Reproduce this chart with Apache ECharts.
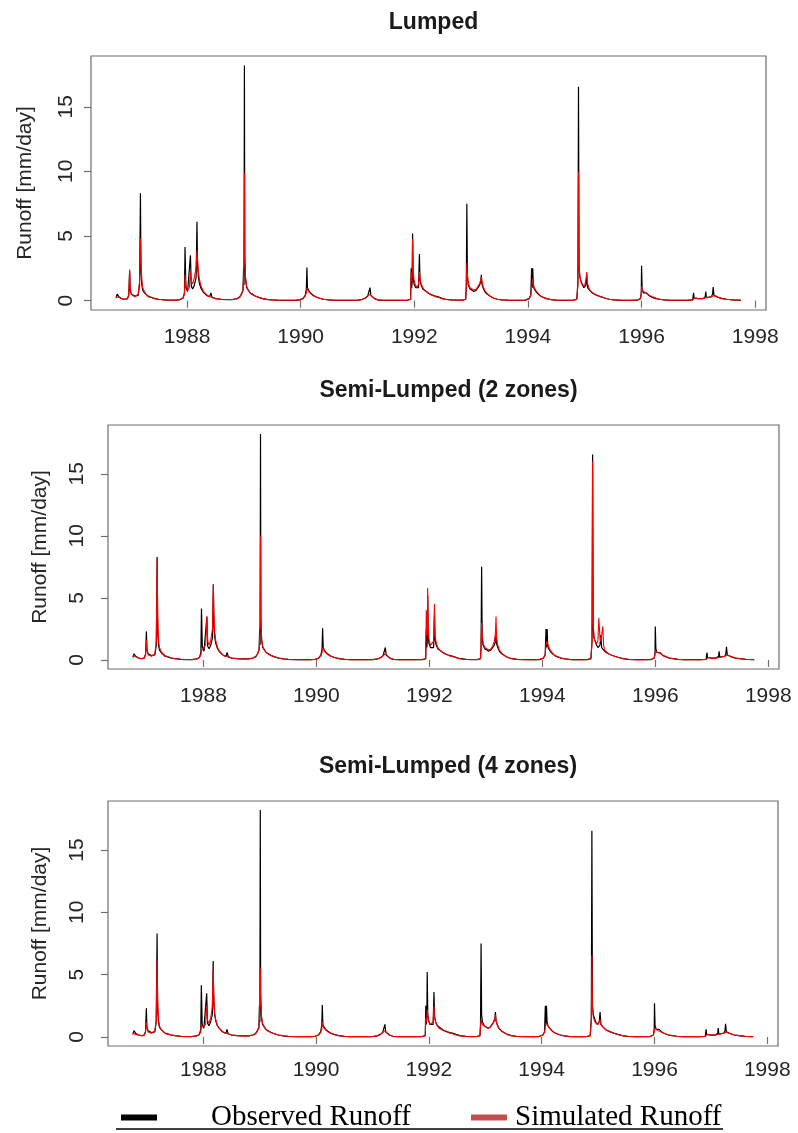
<!DOCTYPE html>
<html>
<head>
<meta charset="utf-8">
<script src="https://cdn.jsdelivr.net/npm/echarts@6/dist/echarts.min.js"></script>
<style>
html,body{margin:0;padding:0;background:#fff;}
#chart{width:798px;height:1133px;}
</style>
</head>
<body>
<div id="chart"></div>
<script>
// ---------------- DATA ----------------
const panelTitles = ['Lumped', 'Semi-Lumped (2 zones)', 'Semi-Lumped (4 zones)'];
const yearTicks = [1988, 1990, 1992, 1994, 1996, 1998];
const runoffTicks = [0, 5, 10, 15];
const legendNames = ['Observed Runoff', 'Simulated Runoff'];

// time in decimal years
const years = [
  // start + 1986-87 season (25)
  1986.75, 1986.77, 1986.80, 1986.85, 1986.90, 1986.95, 1986.975, 1986.99, 1987.00, 1987.02, 1987.05, 1987.08, 1987.11, 1987.14, 1987.165, 1987.18, 1987.19, 1987.205, 1987.22, 1987.25, 1987.28, 1987.32, 1987.37, 1987.43, 1987.50,
  // 1987-88 season (27)
  1987.60, 1987.70, 1987.80, 1987.88, 1987.93, 1987.955, 1987.965, 1987.98, 1988.01, 1988.04, 1988.06, 1988.075, 1988.10, 1988.13, 1988.16, 1988.175, 1988.185, 1988.20, 1988.22, 1988.25, 1988.28, 1988.32, 1988.36, 1988.40, 1988.42, 1988.44, 1988.50,
  // 1988-89 season (21)
  1988.60, 1988.70, 1988.80, 1988.88, 1988.93, 1988.96, 1988.985, 1988.995, 1989.003, 1989.01, 1989.017, 1989.03, 1989.05, 1989.08, 1989.11, 1989.15, 1989.20, 1989.26, 1989.33, 1989.42, 1989.50,
  // 1989-90 (17)
  1989.60, 1989.70, 1989.80, 1989.90, 1989.98, 1990.04, 1990.08, 1990.10, 1990.11, 1990.12, 1990.14, 1990.17, 1990.21, 1990.26, 1990.32, 1990.40, 1990.50,
  // 1990-91 (14)
  1990.60, 1990.75, 1990.90, 1991.00, 1991.08, 1991.14, 1991.18, 1991.21, 1991.22, 1991.235, 1991.26, 1991.30, 1991.36, 1991.45,
  // 1991-92 (27)
  1991.60, 1991.75, 1991.88, 1991.935, 1991.945, 1991.955, 1991.963, 1991.97, 1991.98, 1991.995, 1992.02, 1992.05, 1992.075, 1992.09, 1992.10, 1992.12, 1992.15, 1992.18, 1992.21, 1992.24, 1992.27, 1992.30, 1992.33, 1992.37, 1992.42, 1992.48, 1992.55,
  // 1992-93 (24)
  1992.65, 1992.75, 1992.85, 1992.905, 1992.915, 1992.925, 1992.935, 1992.95, 1992.98, 1993.01, 1993.05, 1993.09, 1993.12, 1993.15, 1993.17, 1993.18, 1993.19, 1993.21, 1993.24, 1993.28, 1993.33, 1993.39, 1993.46, 1993.55,
  // 1993-94 (18)
  1993.65, 1993.75, 1993.85, 1993.95, 1994.02, 1994.05, 1994.065, 1994.075, 1994.085, 1994.095, 1994.11, 1994.14, 1994.18, 1994.22, 1994.27, 1994.33, 1994.40, 1994.50,
  // 1994-95 (25)
  1994.60, 1994.70, 1994.80, 1994.86, 1994.88, 1994.89, 1994.90, 1994.915, 1994.935, 1994.96, 1994.985, 1995.00, 1995.02, 1995.035, 1995.05, 1995.07, 1995.085, 1995.10, 1995.13, 1995.17, 1995.22, 1995.28, 1995.35, 1995.43, 1995.52,
  // 1995-96 (17)
  1995.65, 1995.80, 1995.92, 1995.98, 1995.995, 1996.00, 1996.01, 1996.03, 1996.06, 1996.08, 1996.10, 1996.14, 1996.19, 1996.25, 1996.32, 1996.40, 1996.50,
  // 1996-97 (22)
  1996.65, 1996.80, 1996.90, 1996.915, 1996.925, 1996.94, 1997.00, 1997.08, 1997.12, 1997.13, 1997.14, 1997.18, 1997.23, 1997.25, 1997.26, 1997.275, 1997.30, 1997.35, 1997.42, 1997.50, 1997.60, 1997.75
];

const observed = [
  0.2, 0.5, 0.3, 0.15, 0.1, 0.15, 0.4, 2.3, 0.8, 0.5, 0.4, 0.35, 0.5, 0.4, 1.2, 8.3, 2.2, 1.2, 0.8, 0.6, 0.5, 0.3, 0.25, 0.15, 0.1,
  0.05, 0.03, 0.03, 0.08, 0.2, 0.6, 4.15, 1.0, 0.7, 0.8, 3.5, 1.1, 0.9, 1.2, 1.8, 6.1, 2.8, 1.8, 1.3, 0.9, 0.7, 0.5, 0.35, 0.3, 0.6, 0.25, 0.15,
  0.1, 0.08, 0.08, 0.15, 0.3, 0.5, 0.8, 2.5, 1.2, 18.2, 3.3, 1.6, 1.0, 0.8, 0.6, 0.5, 0.35, 0.25, 0.15, 0.08, 0.05,
  0.03, 0.02, 0.02, 0.02, 0.05, 0.15, 0.4, 0.9, 2.55, 1.0, 0.8, 0.6, 0.45, 0.3, 0.2, 0.1, 0.05,
  0.02, 0.02, 0.02, 0.03, 0.08, 0.2, 0.35, 0.5, 1.0, 0.4, 0.3, 0.15, 0.05, 0.02,
  0.02, 0.02, 0.03, 0.1, 2.5, 1.0, 1.5, 5.2, 1.8, 1.3, 1.0, 0.9, 1.0, 3.6, 1.6, 1.2, 0.9, 0.8, 0.7, 0.6, 0.5, 0.55, 0.4, 0.35, 0.3, 0.2, 0.1,
  0.05, 0.03, 0.03, 0.1, 1.0, 7.5, 1.8, 1.2, 0.9, 0.8, 0.7, 0.8, 0.9, 1.2, 1.5, 2.0, 1.3, 1.0, 0.7, 0.5, 0.35, 0.2, 0.1, 0.05,
  0.03, 0.02, 0.02, 0.03, 0.15, 0.4, 2.5, 1.0, 2.5, 1.2, 0.9, 0.7, 0.5, 0.35, 0.25, 0.15, 0.08, 0.03,
  0.02, 0.02, 0.03, 0.1, 1.5, 16.55, 2.5, 1.8, 1.5, 1.2, 1.0, 0.9, 1.2, 2.0, 1.0, 0.9, 0.8, 0.7, 0.6, 0.5, 0.4, 0.3, 0.2, 0.1, 0.05,
  0.02, 0.02, 0.03, 0.15, 0.6, 2.7, 0.9, 0.6, 0.5, 0.6, 0.45, 0.35, 0.25, 0.15, 0.1, 0.05, 0.02,
  0.02, 0.02, 0.05, 0.6, 0.2, 0.15, 0.15, 0.15, 0.3, 0.7, 0.25, 0.25, 0.3, 0.5, 1.05, 0.4, 0.3, 0.25, 0.15, 0.1, 0.05, 0.02
];

const simLumped = [
  0.3, 0.3, 0.25, 0.15, 0.1, 0.12, 0.5, 2.4, 1.0, 0.5, 0.35, 0.3, 0.4, 0.5, 1.5, 4.8, 3.0, 1.6, 1.0, 0.7, 0.5, 0.35, 0.25, 0.15, 0.1,
  0.05, 0.03, 0.03, 0.08, 0.2, 0.5, 2.0, 1.2, 0.8, 1.0, 2.2, 1.5, 1.3, 1.8, 2.6, 3.9, 3.2, 2.2, 1.6, 1.1, 0.8, 0.55, 0.4, 0.3, 0.3, 0.25, 0.15,
  0.1, 0.08, 0.08, 0.15, 0.25, 0.4, 0.8, 1.6, 3.5, 9.85, 3.5, 1.8, 1.1, 0.8, 0.6, 0.45, 0.35, 0.25, 0.15, 0.08, 0.05,
  0.03, 0.02, 0.02, 0.02, 0.05, 0.15, 0.35, 0.6, 0.95, 0.85, 0.7, 0.55, 0.4, 0.3, 0.2, 0.1, 0.05,
  0.02, 0.02, 0.02, 0.03, 0.08, 0.2, 0.35, 0.45, 0.5, 0.4, 0.3, 0.15, 0.05, 0.02,
  0.02, 0.02, 0.03, 0.1, 2.2, 1.5, 2.0, 4.8, 2.5, 1.6, 1.2, 1.0, 1.3, 2.2, 1.8, 1.3, 1.0, 0.8, 0.7, 0.6, 0.5, 0.45, 0.4, 0.3, 0.25, 0.15, 0.08,
  0.05, 0.03, 0.03, 0.1, 1.2, 2.9, 2.0, 1.4, 1.0, 0.9, 0.8, 0.9, 1.0, 1.3, 1.6, 1.8, 1.5, 1.1, 0.8, 0.55, 0.35, 0.2, 0.1, 0.05,
  0.03, 0.02, 0.02, 0.03, 0.15, 0.4, 1.0, 1.4, 1.7, 1.3, 1.0, 0.8, 0.55, 0.35, 0.25, 0.15, 0.08, 0.03,
  0.02, 0.02, 0.03, 0.1, 1.2, 9.97, 2.8, 1.8, 1.4, 1.2, 1.1, 1.2, 1.6, 2.2, 1.3, 1.0, 0.9, 0.75, 0.6, 0.5, 0.4, 0.3, 0.2, 0.1, 0.05,
  0.02, 0.02, 0.03, 0.15, 0.5, 1.1, 0.9, 0.7, 0.55, 0.6, 0.5, 0.4, 0.3, 0.2, 0.1, 0.05, 0.02,
  0.02, 0.02, 0.05, 0.15, 0.2, 0.2, 0.15, 0.15, 0.2, 0.3, 0.3, 0.25, 0.3, 0.35, 0.45, 0.4, 0.35, 0.25, 0.15, 0.1, 0.05, 0.02
];

const simSemi2 = [
  0.35, 0.3, 0.25, 0.15, 0.1, 0.12, 0.5, 1.6, 0.8, 0.4, 0.35, 0.3, 0.35, 0.5, 1.5, 8.2, 3.5, 1.6, 1.0, 0.7, 0.5, 0.35, 0.25, 0.15, 0.1,
  0.05, 0.03, 0.03, 0.08, 0.2, 0.4, 0.7, 0.9, 0.8, 1.2, 3.5, 1.5, 1.2, 1.6, 2.5, 6.05, 3.8, 2.2, 1.5, 1.0, 0.7, 0.5, 0.35, 0.3, 0.3, 0.25, 0.15,
  0.1, 0.08, 0.08, 0.15, 0.25, 0.4, 0.8, 1.6, 3.3, 10.0, 3.3, 1.7, 1.1, 0.8, 0.6, 0.45, 0.35, 0.25, 0.15, 0.08, 0.05,
  0.03, 0.02, 0.02, 0.02, 0.05, 0.15, 0.35, 0.6, 1.0, 0.9, 0.7, 0.55, 0.4, 0.3, 0.2, 0.1, 0.05,
  0.02, 0.02, 0.02, 0.03, 0.08, 0.2, 0.35, 0.45, 0.5, 0.4, 0.3, 0.15, 0.05, 0.02,
  0.02, 0.02, 0.03, 0.1, 4.0, 2.0, 2.5, 5.8, 2.6, 1.6, 1.2, 1.1, 1.5, 4.5, 2.0, 1.4, 1.0, 0.8, 0.7, 0.6, 0.5, 0.45, 0.4, 0.3, 0.25, 0.15, 0.08,
  0.05, 0.03, 0.03, 0.1, 1.2, 3.0, 2.0, 1.4, 1.0, 0.9, 0.8, 0.9, 1.1, 1.5, 2.2, 3.5, 1.8, 1.2, 0.8, 0.55, 0.35, 0.2, 0.1, 0.05,
  0.03, 0.02, 0.02, 0.03, 0.15, 0.4, 1.2, 1.5, 1.5, 1.4, 1.1, 0.8, 0.55, 0.35, 0.25, 0.15, 0.08, 0.03,
  0.02, 0.02, 0.03, 0.1, 1.5, 16.0, 3.0, 1.8, 1.5, 1.3, 1.6, 3.4, 1.8, 1.5, 1.6, 2.7, 1.2, 0.8, 0.65, 0.5, 0.4, 0.3, 0.2, 0.1, 0.05,
  0.02, 0.02, 0.03, 0.15, 0.4, 0.8, 0.75, 0.6, 0.5, 0.55, 0.45, 0.35, 0.25, 0.15, 0.1, 0.05, 0.02,
  0.02, 0.02, 0.05, 0.15, 0.2, 0.2, 0.15, 0.15, 0.2, 0.3, 0.3, 0.25, 0.3, 0.35, 0.45, 0.4, 0.35, 0.25, 0.15, 0.1, 0.05, 0.02
];

const simSemi4 = [
  0.3, 0.25, 0.2, 0.15, 0.1, 0.1, 0.4, 1.2, 0.7, 0.4, 0.3, 0.3, 0.35, 0.45, 1.3, 6.2, 3.0, 1.5, 0.9, 0.6, 0.45, 0.3, 0.2, 0.15, 0.1,
  0.05, 0.03, 0.03, 0.08, 0.2, 0.4, 1.0, 0.8, 0.7, 1.0, 2.5, 1.3, 1.1, 1.5, 2.4, 5.4, 3.5, 2.0, 1.4, 0.9, 0.7, 0.5, 0.35, 0.3, 0.3, 0.25, 0.15,
  0.1, 0.08, 0.08, 0.15, 0.25, 0.4, 0.7, 1.4, 2.8, 5.5, 3.2, 1.7, 1.1, 0.8, 0.6, 0.45, 0.35, 0.25, 0.15, 0.08, 0.05,
  0.03, 0.02, 0.02, 0.02, 0.05, 0.15, 0.35, 0.6, 1.2, 0.9, 0.7, 0.55, 0.4, 0.3, 0.2, 0.1, 0.05,
  0.02, 0.02, 0.02, 0.03, 0.08, 0.2, 0.35, 0.45, 0.5, 0.4, 0.3, 0.15, 0.05, 0.02,
  0.02, 0.02, 0.03, 0.1, 1.5, 1.2, 1.5, 2.2, 1.8, 1.3, 1.0, 0.9, 1.2, 2.5, 1.6, 1.2, 0.9, 0.7, 0.6, 0.55, 0.5, 0.45, 0.4, 0.3, 0.25, 0.15, 0.08,
  0.05, 0.03, 0.03, 0.1, 0.8, 1.4, 1.2, 1.0, 0.9, 0.8, 0.7, 0.8, 0.9, 1.2, 1.5, 1.75, 1.3, 1.0, 0.7, 0.5, 0.35, 0.2, 0.1, 0.05,
  0.03, 0.02, 0.02, 0.03, 0.15, 0.35, 0.8, 1.1, 1.2, 1.1, 0.9, 0.7, 0.5, 0.35, 0.25, 0.15, 0.08, 0.03,
  0.02, 0.02, 0.03, 0.1, 1.3, 6.55, 2.4, 1.6, 1.3, 1.1, 1.0, 1.0, 1.1, 1.4, 1.0, 0.9, 0.8, 0.7, 0.6, 0.5, 0.4, 0.3, 0.2, 0.1, 0.05,
  0.02, 0.02, 0.03, 0.15, 0.4, 0.7, 0.7, 0.6, 0.5, 0.55, 0.45, 0.35, 0.25, 0.15, 0.1, 0.05, 0.02,
  0.02, 0.02, 0.05, 0.15, 0.2, 0.2, 0.15, 0.15, 0.2, 0.3, 0.3, 0.25, 0.3, 0.35, 0.45, 0.4, 0.35, 0.25, 0.15, 0.1, 0.05, 0.02
];

const simulated = [simLumped, simSemi2, simSemi4];

[observed, simLumped, simSemi2, simSemi4].forEach(function (a, k) {
  if (a.length !== years.length) throw new Error('length mismatch ' + k + ': ' + a.length + ' vs ' + years.length);
});

// ---------------- LAYOUT ----------------
const grids = [
  { left: 91, top: 56, width: 675, height: 254 },
  { left: 108, top: 425, width: 671, height: 244 },
  { left: 108, top: 801, width: 670, height: 245 }
];
const titleTops = [6, 374, 750];
const yLabelMargins = [14, 20, 20];
const yNameGaps = [55, 57, 57];
const xLabelMargins = [17, 17, 14];

const FONT = 'Liberation Sans, Arial, sans-serif';
const BOX = '#6e6e6e';

const chart = echarts.init(document.getElementById('chart'), null, { renderer: 'canvas' });

const pair = function (vals) { return years.map(function (y, i) { return [y, vals[i]]; }); };

const option = {
  animation: false,
  backgroundColor: '#ffffff',
  title: panelTitles.map(function (t, i) {
    return {
      text: t,
      left: grids[i].left + grids[i].width / 2,
      top: titleTops[i],
      textAlign: 'center',
      textStyle: { fontFamily: FONT, fontWeight: 'bold', fontSize: 23, color: '#1a1a1a' }
    };
  }),
  grid: grids.map(function (g) {
    return Object.assign({ show: true, borderColor: BOX, borderWidth: 1.2, backgroundColor: 'transparent', containLabel: false }, g);
  }),
  xAxis: grids.map(function (g, i) {
    return {
      type: 'value', gridIndex: i, min: 1986.31, max: 1998.19,
      axisLine: { show: false },
      splitLine: { show: false },
      axisTick: { show: true, customValues: yearTicks, length: 7, lineStyle: { color: BOX, width: 1.2 } },
      axisLabel: { customValues: yearTicks, formatter: function (v) { return String(Math.round(v)); }, fontFamily: FONT, fontSize: 21, color: '#262626', margin: xLabelMargins[i] }
    };
  }),
  yAxis: grids.map(function (g, i) {
    return {
      type: 'value', gridIndex: i, min: -0.73, max: 18.93,
      name: 'Runoff [mm/day]', nameLocation: 'middle', nameGap: yNameGaps[i], nameRotate: 90,
      nameTextStyle: { fontFamily: FONT, fontSize: 21, color: '#262626' },
      axisLine: { show: false },
      splitLine: { show: false },
      axisTick: { show: true, customValues: runoffTicks, length: 7, lineStyle: { color: BOX, width: 1.2 } },
      axisLabel: { customValues: runoffTicks, rotate: 90, fontFamily: FONT, fontSize: 21, color: '#262626', margin: yLabelMargins[i] }
    };
  }),
  legend: {
    left: 116, top: 1098, orient: 'horizontal', selectedMode: false,
    itemWidth: 36, itemHeight: 6, itemGap: 60,
    textStyle: { fontFamily: 'Liberation Serif, Times New Roman, serif', fontSize: 29, color: '#000' },
    data: [
      { name: legendNames[0], icon: 'rect', itemStyle: { color: '#000000' }, textStyle: { padding: [0, 0, 0, 49] } },
      { name: legendNames[1], icon: 'rect', itemStyle: { color: '#c0504d' }, textStyle: { padding: [0, 0, 0, 3] } }
    ]
  },
  graphic: [
    { type: 'line', shape: { x1: 116, y1: 1129, x2: 723, y2: 1129 }, style: { stroke: '#000', lineWidth: 1.5 } }
  ],
  series: []
};

for (let i = 0; i < 3; i++) {
  option.series.push({
    name: legendNames[0], type: 'line', xAxisIndex: i, yAxisIndex: i,
    data: pair(observed), showSymbol: false, symbol: 'none',
    lineStyle: { color: '#000000', width: 1.2 }, itemStyle: { color: '#000000' }, z: 2
  });
  option.series.push({
    name: legendNames[1], type: 'line', xAxisIndex: i, yAxisIndex: i,
    data: pair(simulated[i]), showSymbol: false, symbol: 'none',
    lineStyle: { color: '#ff0000', width: 1.1 }, itemStyle: { color: '#ff0000' }, z: 3
  });
}

chart.setOption(option);
</script>
</body>
</html>
